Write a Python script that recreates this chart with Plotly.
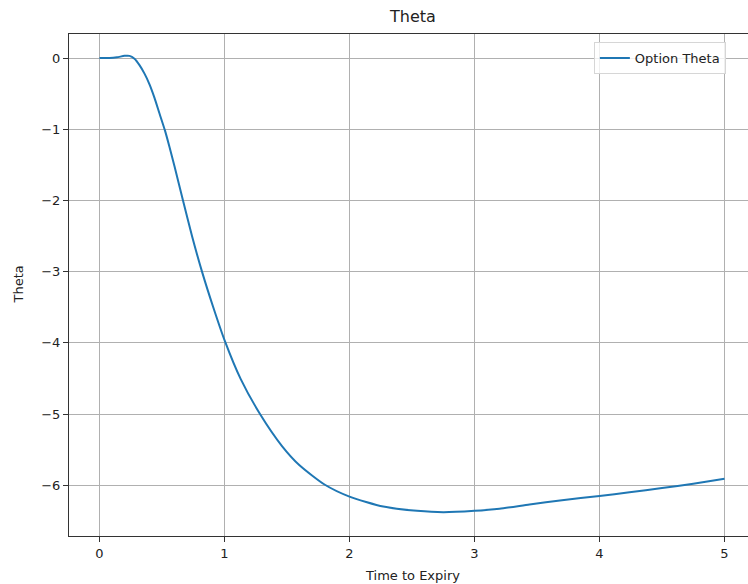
import plotly.graph_objects as go

# Time to expiry (years) and the option's theta
time_to_expiry = [
    0.00, 0.08, 0.14, 0.20, 0.24, 0.28, 0.32, 0.36, 0.40, 0.44,
    0.48, 0.524, 0.56, 0.60, 0.668, 0.74, 0.82, 0.91, 1.004, 1.13,
    1.284, 1.46, 1.60, 1.80, 2.00, 2.27, 2.54, 2.75, 3.00, 3.20,
    3.44, 3.70, 4.00, 4.24, 4.50, 4.75, 5.00,
]
theta = [
    0.00, 0.00, 0.01, 0.03, 0.03, -0.01, -0.10, -0.22, -0.37, -0.56,
    -0.78, -1.02, -1.25, -1.52, -2.00, -2.50, -3.00, -3.50, -3.98, -4.51,
    -5.00, -5.45, -5.72, -5.99, -6.16, -6.30, -6.36, -6.38, -6.36, -6.33,
    -6.27, -6.21, -6.15, -6.10, -6.04, -5.98, -5.91,
]

x_ticks = [0, 1, 2, 3, 4, 5]
y_ticks = [-6, -5, -4, -3, -2, -1, 0]

FONT = "DejaVu Sans"
INK = "#222222"

fig = go.Figure()
fig.add_trace(go.Scatter(
    x=time_to_expiry, y=theta, mode="lines", name="Option Theta",
    line=dict(color="#1f77b4", width=2, shape="spline", smoothing=0.6),
))

axis_common = dict(
    showgrid=True, gridcolor="#b0b0b0", gridwidth=1,
    showline=True, linecolor="#333333", linewidth=1.2,
    ticks="outside", ticklen=5, tickwidth=1, tickcolor="#333333",
    tickfont=dict(family=FONT, size=13, color=INK),
    zeroline=False,
)

fig.update_layout(
    width=748, height=584,
    margin=dict(l=69, r=0, t=34, b=48),
    paper_bgcolor="white", plot_bgcolor="white",
    font=dict(family=FONT, color=INK),
    showlegend=True,
    legend=dict(
        x=0.773, y=0.984, xanchor="left", yanchor="top",
        bgcolor="rgba(255,255,255,0.8)", bordercolor="#d6d6d6", borderwidth=1,
        font=dict(family=FONT, size=13, color=INK),
    ),
    xaxis=dict(range=[-0.244, 5.188], tickvals=x_ticks, mirror=True, **axis_common),
    yaxis=dict(range=[-6.713, 0.337], tickvals=y_ticks, mirror=False, **axis_common),
    annotations=[
        dict(text="Theta", x=2.5, xref="x", y=1.034, yref="paper",
             showarrow=False, xanchor="center", yanchor="middle",
             font=dict(family=FONT, size=16, color=INK)),
        dict(text="Time to Expiry", x=2.5, xref="x", y=-0.078, yref="paper",
             showarrow=False, xanchor="center", yanchor="middle",
             font=dict(family=FONT, size=13, color=INK)),
        dict(text="Theta", x=-(69 - 17.5) / 679, xref="paper", y=0.5, yref="paper",
             showarrow=False, textangle=-90, xanchor="center", yanchor="middle",
             font=dict(family=FONT, size=13, color=INK)),
    ],
)

fig.write_html("out.html")
